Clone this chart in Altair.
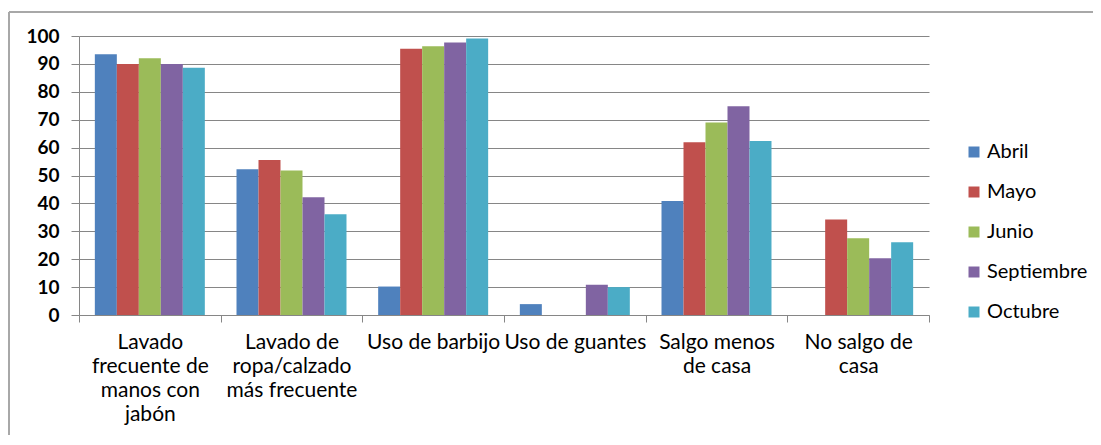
import altair as alt
import pandas as pd

categories = [
    "Lavado frecuente de manos con jabón",
    "Lavado de ropa/calzado más frecuente",
    "Uso de barbijo",
    "Uso de guantes",
    "Salgo menos de casa",
    "No salgo de casa",
]
category_labels = [
    "Lavado|frecuente de|manos con|jabón",
    "Lavado de|ropa/calzado|más frecuente",
    "Uso de barbijo",
    "Uso de guantes",
    "Salgo menos|de casa",
    "No salgo de|casa",
]
months = ["Abril", "Mayo", "Junio", "Septiembre", "Octubre"]
colors = ["#4F81BD", "#C0504D", "#9BBB59", "#8064A2", "#4BACC6"]

abril = [93.5, 52.2, 10.2, 3.9, 40.9, 0]
mayo = [90.0, 55.6, 95.4, 0, 61.9, 34.2]
junio = [92.0, 51.8, 96.3, 0, 69.0, 27.5]
septiembre = [90.0, 42.2, 97.7, 10.8, 74.8, 20.3]
octubre = [88.6, 36.1, 99.1, 10.0, 62.4, 26.1]
series = [abril, mayo, junio, septiembre, octubre]
y_ticks = list(range(0, 101, 10))

rows = []
for m, vals in zip(months, series):
    for c, lab, v in zip(categories, category_labels, vals):
        rows.append({"categoria": c, "label": lab, "month": m, "value": v})
df = pd.DataFrame(rows)

FONT = "Lato"
GRAY = "#868686"
FRAME = "#a8a8a8"

bars = alt.Chart(df).mark_bar().encode(
    x=alt.X(
        "label:N",
        sort=category_labels,
        scale=alt.Scale(paddingInner=0, paddingOuter=0),
        axis=alt.Axis(
            title=None,
            labelExpr="split(datum.label, '|')",
            labelAngle=0,
            tickBand="extent",
            tickSize=7,
            labelPadding=9,
            labelLineHeight=24,
            labelFontSize=21,
            labelFont=FONT,
            labelColor="black",
            labelLimit=0,
            domainColor=GRAY,
            tickColor=GRAY,
        ),
    ),
    xOffset=alt.XOffset(
        "month:N", sort=months, scale=alt.Scale(paddingInner=0, paddingOuter=0.72)
    ),
    y=alt.Y(
        "value:Q",
        scale=alt.Scale(domain=[0, 100], nice=False),
        axis=alt.Axis(
            title=None,
            values=y_ticks,
            tickSize=8,
            labelPadding=12,
            labelFontSize=19,
            labelFont=FONT,
            labelFontWeight="bold",
            labelColor="black",
            domainColor=GRAY,
            tickColor=GRAY,
            gridColor=GRAY,
        ),
    ),
    color=alt.Color(
        "month:N",
        sort=months,
        scale=alt.Scale(domain=months, range=colors),
        legend=alt.Legend(
            title=None,
            orient="none",
            legendX=885,
            legendY=106,
            symbolType="square",
            symbolSize=121,
            symbolStrokeWidth=0,
            labelFontSize=20,
            labelFont=FONT,
            labelColor="black",
            rowPadding=20,
            labelOffset=3,
        ),
    ),
)

one = pd.DataFrame({"k": [0]})
frame_top = alt.Chart(one).mark_rule(stroke=FRAME, strokeWidth=2).encode(
    x=alt.value(-70), x2=alt.value(1020), y=alt.value(-24)
)
frame_left = alt.Chart(one).mark_rule(stroke=FRAME, strokeWidth=2).encode(
    x=alt.value(-70), y=alt.value(-24), y2=alt.value(410)
)

chart = alt.layer(frame_top, frame_left, bars).properties(
    width=850,
    height=279,
    autosize=alt.AutoSizeParams(type="none"),
    padding={"left": 71, "top": 28, "right": 164, "bottom": 120},
).configure_view(strokeWidth=0)

chart.save("out.html", embed_options={"renderer": "svg", "actions": False})
